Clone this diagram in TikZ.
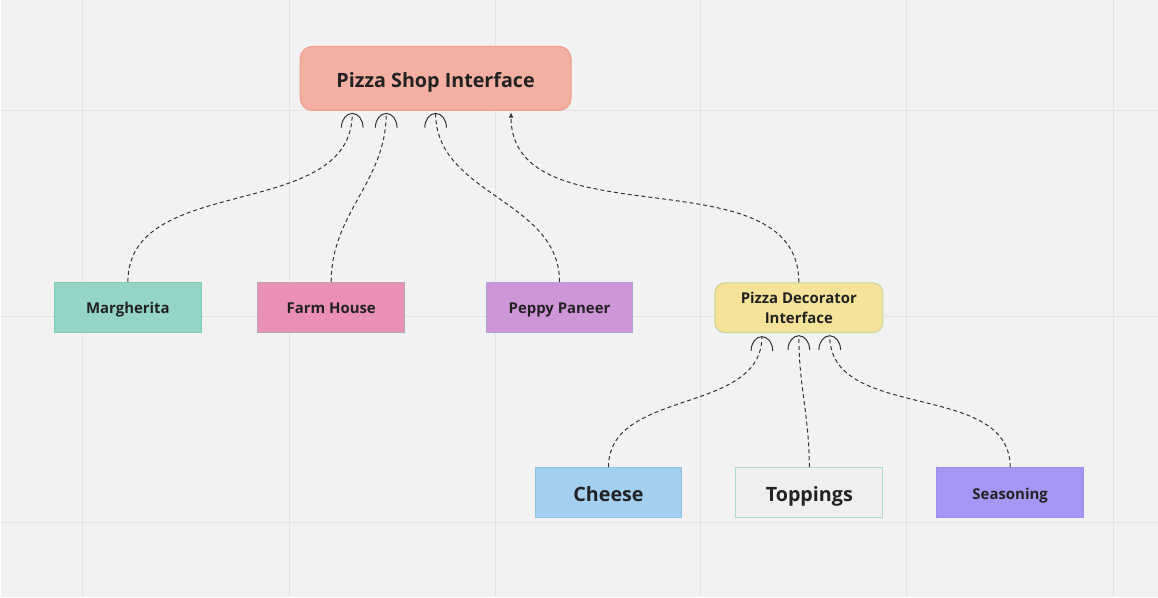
\documentclass[tikz,border=0pt]{standalone}
\usepackage{fontspec}
\setmainfont{Open Sans}
\usetikzlibrary{arrows.meta}
\definecolor{bgcol}{HTML}{F2F2F2}
\definecolor{gridcol}{HTML}{E3E3E3}
\definecolor{shopfill}{HTML}{F4AFA3}
\definecolor{shopline}{HTML}{EE9C8C}
\definecolor{margfill}{HTML}{95D5C7}
\definecolor{margline}{HTML}{7FCBB9}
\definecolor{farmfill}{HTML}{EA8FB6}
\definecolor{farmline}{HTML}{B9A6B3}
\definecolor{peppyfill}{HTML}{CF95D9}
\definecolor{peppyline}{HTML}{AAA6DA}
\definecolor{decofill}{HTML}{F5E39A}
\definecolor{decoline}{HTML}{C8D69A}
\definecolor{cheesefill}{HTML}{A3CFF1}
\definecolor{cheeseline}{HTML}{8DC2E3}
\definecolor{topfill}{HTML}{EFEFEF}
\definecolor{topline}{HTML}{A8DCCF}
\definecolor{seasonfill}{HTML}{A695F2}
\definecolor{seasonline}{HTML}{9C8DEE}
\definecolor{inkcol}{HTML}{222222}
\definecolor{dashcol}{HTML}{333333}
\begin{document}
\begin{tikzpicture}[x=0.75pt,y=-0.75pt,
  pizzabox/.style={draw,line width=0.75pt,inner sep=0pt,minimum width=110.25pt,
    minimum height=37.5pt,text=inkcol,text height=10pt,text depth=0pt,
    font=\bfseries\fontsize{11.2}{13}\selectfont},
  bigtext/.style={text height=13.4pt,font=\bfseries\fontsize{14.8}{17}\selectfont},
  dep/.style={draw=dashcol,line width=0.75pt,dash pattern=on 3pt off 2.2pt,
    -{Arc Barb[width=17pt,length=11pt,line width=0.75pt]}},
  depfill/.style={draw=dashcol,line width=0.75pt,dash pattern=on 3pt off 2.2pt,
    -{Latex[length=4pt,width=3.5pt]}}]
% canvas and faint grid
\fill[bgcol] (0,0) rectangle (1158,597);
\foreach \gx in {82,289,495,701,907,1114}
  \draw[gridcol,line width=0.75pt] (\gx,0)--(\gx,597);
\foreach \gy in {110,316,522}
  \draw[gridcol,line width=0.75pt] (0,\gy)--(1158,\gy);

% top interface
\node[pizzabox,bigtext,rounded corners=9pt,fill=shopfill,draw=shopline,minimum width=203.25pt,
  minimum height=48pt] (shop) at (435.5,78) {Pizza Shop Interface};

% concrete pizzas
\node[pizzabox,fill=margfill,draw=margline] (marg) at (127.5,307) {Margherita};
\node[pizzabox,fill=farmfill,draw=farmline] (farm) at (331,307) {Farm House};
\node[pizzabox,fill=peppyfill,draw=peppyline] (peppy) at (559.5,307) {Peppy Paneer};
\node[pizzabox,rounded corners=7.5pt,fill=decofill,draw=decoline,minimum width=126pt,
  text height=,text depth=,align=center,
  font=\bfseries\fontsize{11.2}{15}\selectfont] (deco) at (799,307.5) {Pizza Decorator\\Interface};

% decorators
\node[pizzabox,bigtext,fill=cheesefill,draw=cheeseline] (cheese) at (608.5,492.5) {Cheese};
\node[pizzabox,bigtext,fill=topfill,draw=topline] (top) at (809.5,492.5) {Toppings};
\node[pizzabox,fill=seasonfill,draw=seasonline] (season) at (1010.5,492.5) {Seasoning};

% connectors
\draw[dep] (marg.north) to[out=90,in=-90] ([xshift=-62.6pt,yshift=-1.5pt]shop.south);
\draw[dep] (farm.north) to[out=90,in=-90] ([xshift=-37.1pt,yshift=-1.5pt]shop.south);
\draw[dep] (peppy.north) to[out=90,in=-90] ([yshift=-1.5pt]shop.south);
\draw[depfill] (deco.north) to[out=90,in=-90] ([xshift=56.6pt,yshift=-1pt]shop.south);
\draw[dep] (cheese.north) to[out=90,in=-90] ([xshift=-27.7pt,yshift=-2.2pt]deco.south);
\draw[dep] (top.north) to[out=90,in=-90] ([yshift=-1.5pt]deco.south);
\draw[dep] (season.north) to[out=90,in=-90] ([xshift=23.2pt,yshift=-1.5pt]deco.south);
\end{tikzpicture}
\end{document}
